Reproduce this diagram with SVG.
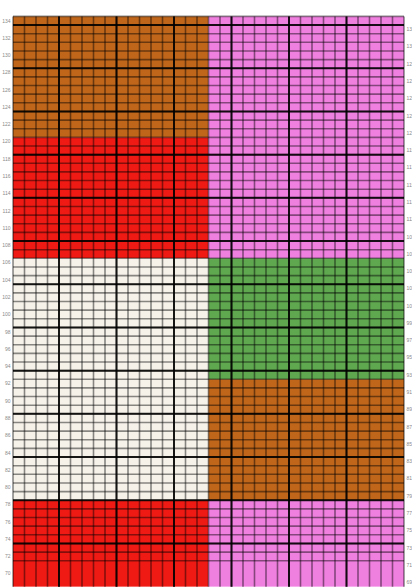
<svg xmlns="http://www.w3.org/2000/svg" width="412" height="587" viewBox="0 0 412 587">
<style>
.bg{fill:#ffffff}
.brown{fill:#C0661B}
.red{fill:#F01A14}
.pink{fill:#F080E0}
.green{fill:#60A850}
.white{fill:#F6F2EA}
.thin{fill:none;stroke:#000;stroke-opacity:0.45;stroke-width:1.6}
.thick{fill:none;stroke:#000;stroke-opacity:0.85;stroke-width:2}
.lab{font-family:"Liberation Sans",Arial,sans-serif;font-size:5px;fill:#8a8a8a}
.l{text-anchor:end}
</style>
<rect class="bg" x="0" y="0" width="412" height="587"/>
<g id="blocks">
<rect class="brown" x="13" y="16.4" width="195.5" height="120.96"/>
<rect class="red" x="13" y="137.36" width="195.5" height="120.96"/>
<rect class="white" x="13" y="258.32" width="195.5" height="241.92"/>
<rect class="red" x="13" y="500.24" width="195.5" height="86.4"/>
<rect class="pink" x="208.5" y="16.4" width="195.5" height="241.92"/>
<rect class="green" x="208.5" y="258.32" width="195.5" height="120.96"/>
<rect class="brown" x="208.5" y="379.28" width="195.5" height="120.96"/>
<rect class="pink" x="208.5" y="500.24" width="195.5" height="86.4"/>
</g>
<g id="grid">
<path class="thin" d="M13 16.4v570.24m11.5-570.24v570.24m11.5-570.24v570.24m11.5-570.24v570.24m11.5-570.24v570.24m11.5-570.24v570.24m11.5-570.24v570.24m11.5-570.24v570.24m11.5-570.24v570.24m11.5-570.24v570.24m11.5-570.24v570.24m11.5-570.24v570.24m11.5-570.24v570.24m11.5-570.24v570.24m11.5-570.24v570.24m11.5-570.24v570.24m11.5-570.24v570.24m11.5-570.24v570.24m11.5-570.24v570.24m11.5-570.24v570.24m11.5-570.24v570.24m11.5-570.24v570.24m11.5-570.24v570.24m11.5-570.24v570.24m11.5-570.24v570.24m11.5-570.24v570.24m11.5-570.24v570.24m11.5-570.24v570.24m11.5-570.24v570.24m11.5-570.24v570.24m11.5-570.24v570.24m11.5-570.24v570.24m11.5-570.24v570.24m11.5-570.24v570.24m11.5-570.24v570.24"/>
<path class="thin" d="M13 16.4h391m-391 8.64h391m-391 8.64h391m-391 8.64h391m-391 8.64h391m-391 8.64h391m-391 8.64h391m-391 8.64h391m-391 8.64h391m-391 8.64h391m-391 8.64h391m-391 8.64h391m-391 8.64h391m-391 8.64h391m-391 8.64h391m-391 8.64h391m-391 8.64h391m-391 8.64h391m-391 8.64h391m-391 8.64h391m-391 8.64h391m-391 8.64h391m-391 8.64h391m-391 8.64h391m-391 8.64h391m-391 8.64h391m-391 8.64h391m-391 8.64h391m-391 8.64h391m-391 8.64h391m-391 8.64h391m-391 8.64h391m-391 8.64h391m-391 8.64h391m-391 8.64h391m-391 8.64h391m-391 8.64h391m-391 8.64h391m-391 8.64h391m-391 8.64h391m-391 8.64h391m-391 8.64h391m-391 8.64h391m-391 8.64h391m-391 8.64h391m-391 8.64h391m-391 8.64h391m-391 8.64h391m-391 8.64h391m-391 8.64h391m-391 8.64h391m-391 8.64h391m-391 8.64h391m-391 8.64h391m-391 8.64h391m-391 8.64h391m-391 8.64h391m-391 8.64h391m-391 8.64h391m-391 8.64h391m-391 8.64h391m-391 8.64h391m-391 8.64h391m-391 8.64h391"/>
<path class="thick" d="M59 16.4v570.24m57.5-570.24v570.24m57.5-570.24v570.24m57.5-570.24v570.24m57.5-570.24v570.24m57.5-570.24v570.24"/>
<path class="thick" d="M13 25.04h391m-391 43.2h391m-391 43.2h391m-391 43.2h391m-391 43.2h391m-391 43.2h391m-391 43.2h391m-391 43.2h391m-391 43.2h391m-391 43.2h391m-391 43.2h391m-391 43.2h391m-391 43.2h391"/>
</g>
<g id="labels-left" class="lab l">
<text x="10.5" y="22.52">134</text><text x="10.5" y="39.8">132</text><text x="10.5" y="57.08">130</text><text x="10.5" y="74.36">128</text><text x="10.5" y="91.64">126</text><text x="10.5" y="108.92">124</text><text x="10.5" y="126.2">122</text><text x="10.5" y="143.48">120</text><text x="10.5" y="160.76">118</text><text x="10.5" y="178.04">116</text><text x="10.5" y="195.32">114</text><text x="10.5" y="212.6">112</text><text x="10.5" y="229.88">110</text><text x="10.5" y="247.16">108</text><text x="10.5" y="264.44">106</text><text x="10.5" y="281.72">104</text><text x="10.5" y="299">102</text><text x="10.5" y="316.28">100</text><text x="10.5" y="333.56">98</text><text x="10.5" y="350.84">96</text><text x="10.5" y="368.12">94</text><text x="10.5" y="385.4">92</text><text x="10.5" y="402.68">90</text><text x="10.5" y="419.96">88</text><text x="10.5" y="437.24">86</text><text x="10.5" y="454.52">84</text><text x="10.5" y="471.8">82</text><text x="10.5" y="489.08">80</text><text x="10.5" y="506.36">78</text><text x="10.5" y="523.64">76</text><text x="10.5" y="540.92">74</text><text x="10.5" y="558.2">72</text><text x="10.5" y="575.48">70</text>
</g>
<g id="labels-right" class="lab">
<text x="406.5" y="31.16">133</text><text x="406.5" y="48.44">131</text><text x="406.5" y="65.72">129</text><text x="406.5" y="83">127</text><text x="406.5" y="100.28">125</text><text x="406.5" y="117.56">123</text><text x="406.5" y="134.84">121</text><text x="406.5" y="152.12">119</text><text x="406.5" y="169.4">117</text><text x="406.5" y="186.68">115</text><text x="406.5" y="203.96">113</text><text x="406.5" y="221.24">111</text><text x="406.5" y="238.52">109</text><text x="406.5" y="255.8">107</text><text x="406.5" y="273.08">105</text><text x="406.5" y="290.36">103</text><text x="406.5" y="307.64">101</text><text x="406.5" y="324.92">99</text><text x="406.5" y="342.2">97</text><text x="406.5" y="359.48">95</text><text x="406.5" y="376.76">93</text><text x="406.5" y="394.04">91</text><text x="406.5" y="411.32">89</text><text x="406.5" y="428.6">87</text><text x="406.5" y="445.88">85</text><text x="406.5" y="463.16">83</text><text x="406.5" y="480.44">81</text><text x="406.5" y="497.72">79</text><text x="406.5" y="515">77</text><text x="406.5" y="532.28">75</text><text x="406.5" y="549.56">73</text><text x="406.5" y="566.84">71</text><text x="406.5" y="584.12">69</text>
</g>
</svg>
